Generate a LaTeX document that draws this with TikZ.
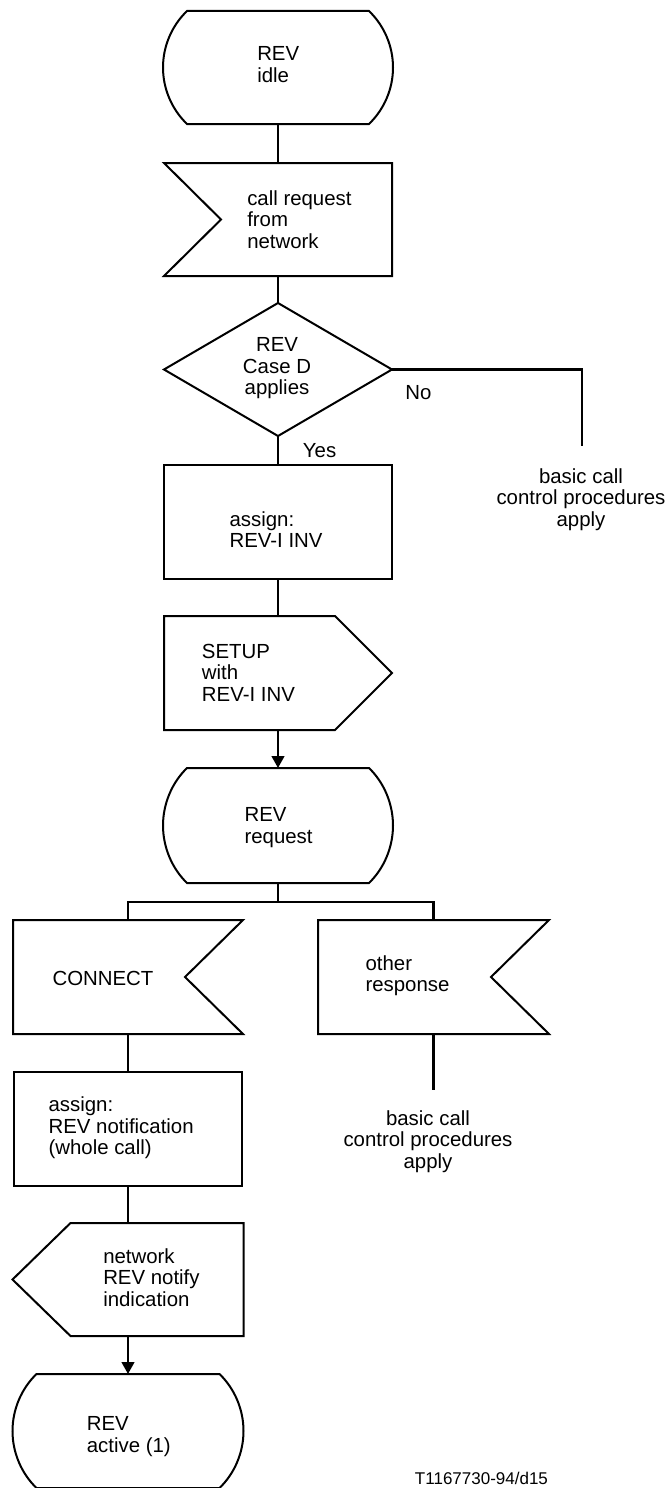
\documentclass[tikz,border=0pt]{standalone}
\usepackage{fontspec}
\setmainfont{Liberation Sans}
\usetikzlibrary{arrows.meta,calc}
\newcommand\mainfs{\fontsize{15.3pt}{16.2pt}\selectfont}
\newcommand\ltxt[1]{\begin{tabular}[t]{@{}l@{}}#1\end{tabular}}
\newcommand\ctxt[1]{\begin{tabular}[t]{@{}c@{}}#1\end{tabular}}
\newcommand\sdlstate[1]{%
  \draw[shp] ($(#1.north west)+(24,0)$) -- ($(#1.north east)+(-24,0)$)
    .. controls +(15.3,14.8) and +(0,-21.3) .. (#1.east)
    .. controls +(0,21.3) and +(15.3,-14.8) .. ($(#1.south east)+(-24,0)$)
    -- ($(#1.south west)+(24,0)$)
    .. controls +(-15.3,-14.8) and +(0,21.3) .. (#1.west)
    .. controls +(0,-21.3) and +(-15.3,14.8) .. ($(#1.north west)+(24,0)$) -- cycle;}
\newcommand\sdlinl[1]{%
  \draw[shp] (#1.north west) -- (#1.north east) -- (#1.south east) -- (#1.south west) -- ($(#1.west)+(57,0)$) -- cycle;}
\newcommand\sdlinr[1]{%
  \draw[shp] (#1.north west) -- (#1.north east) -- ($(#1.east)+(-58,0)$) -- (#1.south east) -- (#1.south west) -- cycle;}
\newcommand\sdloutr[1]{%
  \draw[shp] (#1.north west) -- ($(#1.north east)+(-57,0)$) -- (#1.east) -- ($(#1.south east)+(-57,0)$) -- (#1.south west) -- cycle;}
\newcommand\sdloutl[1]{%
  \draw[shp] ($(#1.north west)+(58,0)$) -- (#1.north east) -- (#1.south east) -- ($(#1.south west)+(58,0)$) -- (#1.west) -- cycle;}
\begin{document}
\begin{tikzpicture}[x=0.75pt,y=-0.75pt,
  fr/.style 2 args={draw=none, rectangle, inner sep=0pt, outer sep=0pt,
    minimum width={#1*0.75pt}, minimum height={#2*0.75pt}, line width=1.5pt},
  shp/.style={line width=1.5pt, line join=miter},
  ln/.style={line width=1.7pt},
  arr/.style={ln, -{Triangle[length=9pt,width=9.5pt]}},
  tx/.style={inner sep=0pt, anchor=base west, font=\mainfs},
  ctx/.style={inner sep=0pt, anchor=base, font=\mainfs}]
\useasboundingbox (0,0) rectangle (670,1488);
\clip (0,0) rectangle (670,1488);
% frames
\node[fr={230}{113}] (S1) at (278,67.5) {};
\node[fr={228}{113}] (I1) at (278,219.5) {};
\node[fr={228}{133}] (D1) at (278,369.5) {};
\node[fr={228}{114}, draw] (T1) at (278,522) {};
\node[fr={228}{114}] (O1) at (278,673) {};
\node[fr={230}{115}] (S2) at (278,825.5) {};
\node[fr={230}{114}] (C1) at (128,977) {};
\node[fr={231}{114}] (R1) at (433.5,977) {};
\node[fr={228}{114}, draw] (T2) at (128,1129) {};
\node[fr={231}{113}] (O2) at (128,1279.5) {};
\node[fr={231}{114}] (S3) at (128,1431) {};
% outlines
\sdlstate{S1}
\sdlinl{I1}
\draw[shp] (D1.north) -- (D1.east) -- (D1.south) -- (D1.west) -- cycle;
\sdloutr{O1}
\sdlstate{S2}
\sdlinr{C1}
\sdlinr{R1}
\sdloutl{O2}
\sdlstate{S3}
% connectors
\coordinate (noend) at (582,446);
\coordinate (junc) at (278,902);
\coordinate (othend) at (433.5,1090);
\draw[ln] (S1.south) -- (I1.north);
\draw[ln] (I1.south) -- (D1.north);
\draw[ln] (D1.south) -- (T1.north);
\draw[ln] (D1.east) -| (noend);
\draw[ln] (T1.south) -- (O1.north);
\draw[arr] (O1.south) -- (S2.north);
\draw[ln] (S2.south) -- (junc);
\draw[ln] (C1.north) |- (junc) -| (R1.north);
\draw[ln] (C1.south) -- (T2.north);
\draw[ln] (R1.south) -- (othend);
\draw[ln] (T2.south) -- (O2.north);
\draw[arr] (O2.south) -- (S3.north);
% texts
\node[tx] (tS1) at (257,61) {\ltxt{REV\\idle}};
\node[tx] (tI1) at (247,205) {\ltxt{call request\\from\\network}};
\node[ctx] (tD1) at (277,351.7) {\ctxt{REV\\Case D\\applies}};
\node[tx] (tNo) at (405,399.3) {No};
\node[tx] (tYes) at (302.7,457.7) {Yes};
\node[ctx] (tB1) at (581,483.3) {\ctxt{basic call\\control procedures\\apply}};
\node[tx] (tT1) at (229.3,526) {\ltxt{assign:\\REV-I INV}};
\node[tx] (tO1) at (201.7,658.3) {\ltxt{SETUP\\with\\REV-I INV}};
\node[tx] (tS2) at (244.3,821.7) {\ltxt{REV\\request}};
\node[tx] (tC1) at (52.3,985) {CONNECT};
\node[tx] (tR1) at (365.3,970) {\ltxt{other\\response}};
\node[ctx] (tB2) at (428,1125) {\ctxt{basic call\\control procedures\\apply}};
\node[tx] (tT2) at (48.3,1111.7) {\ltxt{assign:\\REV notification\\(whole call)}};
\node[tx] (tO2) at (103,1263.3) {\ltxt{network\\REV notify\\indication}};
\node[tx] (tS3) at (86.6,1430.7) {\ltxt{REV\\active (1)}};
\node[tx, font=\fontsize{12.75pt}{14pt}\selectfont] (tid) at (414.7,1484) {T1167730-94/d15};
\end{tikzpicture}
\end{document}
